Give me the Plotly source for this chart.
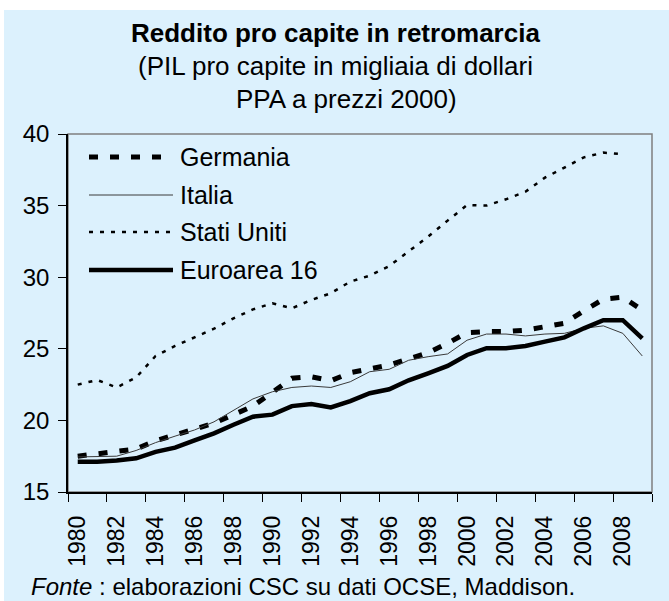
import plotly.graph_objects as go

# Real GDP per capita, thousands of PPP dollars at 2000 prices
years = list(range(1980, 2010))

germania = [17.5, 17.65, 17.77, 18.0, 18.58, 19.0, 19.4, 19.8, 20.4, 21.0,
            21.96, 22.94, 23.05, 22.77, 23.33, 23.64, 23.87, 24.3, 24.73, 25.38,
            26.13, 26.2, 26.2, 26.3, 26.5, 26.78, 27.66, 28.46, 28.6, 27.7]

italia = [17.45, 17.48, 17.5, 17.9, 18.45, 18.9, 19.33, 19.9, 20.7, 21.5,
          22.0, 22.3, 22.4, 22.3, 22.7, 23.4, 23.57, 24.2, 24.45, 24.64,
          25.6, 26.03, 26.03, 25.9, 26.03, 26.08, 26.43, 26.6, 26.08, 24.5]

stati_uniti = [22.5, 22.82, 22.3, 23.0, 24.5, 25.2, 25.8, 26.4, 27.13, 27.75,
               28.18, 27.83, 28.41, 28.88, 29.69, 30.11, 30.78, 31.78, 32.83, 33.95,
               35.04, 35.0, 35.44, 35.97, 36.95, 37.65, 38.37, 38.7, 38.6, None]

euroarea = [17.12, 17.12, 17.2, 17.35, 17.8, 18.1, 18.6, 19.1, 19.7, 20.26,
            20.4, 21.0, 21.15, 20.9, 21.35, 21.9, 22.17, 22.8, 23.29, 23.8,
            24.57, 25.04, 25.04, 25.2, 25.5, 25.8, 26.43, 27.0, 27.0, 25.73]

series_names = ["Germania", "Italia", "Stati Uniti", "Euroarea 16"]
series_values = [germania, italia, stati_uniti, euroarea]

y_ticks = [15, 20, 25, 30, 35, 40]
x_label_years = list(range(1980, 2009, 2))

title_lines = ["<b>Reddito pro capite in retromarcia</b>",
               "(PIL pro capite in migliaia di dollari",
               "PPA a prezzi 2000)"]
source_note = "<i>Fonte</i> : elaborazioni CSC su dati OCSE, Maddison."

# Line styles per series
styles = [
    dict(color="black", width=5, dash="9px,12px"),
    dict(color="#3a3a3a", width=1, dash="solid"),
    dict(color="black", width=2.5, dash="4px,7px"),
    dict(color="black", width=4.5, dash="solid"),
]

BG = "#DCF1FD"
FONT = "Liberation Sans, Arial, sans-serif"
W, H = 669, 601
ML, MR, MT, MB = 68, 17, 134, 109
PW, PH = W - ML - MR, H - MT - MB


def px_x(px):
    return (px - ML) / PW


def px_y(py):
    return (H - MB - py) / PH


fig = go.Figure()

for name, vals, st in zip(series_names, series_values, styles):
    fig.add_trace(go.Scatter(x=years, y=vals, name=name, mode="lines",
                             line=st, connectgaps=False, showlegend=False,
                             xaxis="x", yaxis="y"))

# Invisible trace on the label axis so it is laid out alongside the data axis
fig.add_trace(go.Scatter(x=[years[0], years[-1]], y=[None, None],
                         xaxis="x2", yaxis="y", showlegend=False,
                         hoverinfo="skip"))

shapes = []
annotations = []

# Plot frame (grey), axes drawn on top in black
shapes.append(dict(type="rect", xref="paper", yref="paper", x0=0, x1=1, y0=0, y1=1,
                   line=dict(color="#7f7f7f", width=1.5), layer="below"))

# White border strips outside the coloured panel
shapes.append(dict(type="rect", xref="paper", yref="paper",
                   x0=px_x(-10), x1=px_x(W + 10), y0=px_y(10), y1=px_y(-10),
                   fillcolor="white", line=dict(width=0)))
shapes.append(dict(type="rect", xref="paper", yref="paper",
                   x0=px_x(-10), x1=px_x(4), y0=px_y(H + 10), y1=px_y(-10),
                   fillcolor="white", line=dict(width=0)))

# Legend
legend_rows = [157, 195, 232, 270]
for name, st, row in zip(series_names, styles, legend_rows):
    shapes.append(dict(type="line", xref="paper", yref="paper",
                       x0=px_x(89), x1=px_x(173), y0=px_y(row), y1=px_y(row),
                       line=dict(color=st["color"], width=st["width"], dash=st["dash"])))
    annotations.append(dict(text=name, xref="paper", yref="paper",
                            x=px_x(178), y=px_y(row), xanchor="left", yanchor="middle",
                            showarrow=False, font=dict(size=25, color="black", family=FONT)))

# Title block
title_pos = [(335, 33), (335, 66), (346, 99)]
for txt, (cx, cy) in zip(title_lines, title_pos):
    annotations.append(dict(text=txt, xref="paper", yref="paper",
                            x=px_x(cx), y=px_y(cy), xanchor="center", yanchor="middle",
                            showarrow=False, font=dict(size=26, color="black", family=FONT)))

# Source note
annotations.append(dict(text=source_note, xref="paper", yref="paper",
                        x=px_x(30), y=px_y(H), xanchor="left", yanchor="bottom",
                        borderpad=0, showarrow=False,
                        font=dict(size=24, color="black", family=FONT)))

x_range = [years[0] - 0.5, years[-1] + 0.5]

fig.update_layout(
    width=W, height=H,
    margin=dict(l=ML, r=MR, t=MT, b=MB, pad=0),
    paper_bgcolor=BG, plot_bgcolor=BG,
    font=dict(family=FONT, color="black"),
    showlegend=False,
    shapes=shapes,
    annotations=annotations,
    xaxis=dict(range=x_range, tickmode="array",
               tickvals=[y - 0.5 for y in years[::2]] + [years[-1] + 0.5],
               ticktext=[""] * (len(years[::2]) + 1),
               ticks="outside", ticklen=8, tickwidth=1.2, tickcolor="black",
               showline=True, linecolor="black", linewidth=1.5,
               showgrid=False, zeroline=False, fixedrange=True),
    xaxis2=dict(range=x_range, overlaying="x", anchor="y", side="bottom",
                tickmode="array", tickvals=x_label_years,
                ticktext=[str(v) for v in x_label_years],
                tickangle=-90, ticks="", showline=False, showgrid=False,
                zeroline=False, tickfont=dict(size=23, color="black", family=FONT),
                ticklabelstandoff=18),
    yaxis=dict(range=[15, 40], tickmode="array", tickvals=y_ticks,
               ticks="outside", ticklen=8, tickwidth=1.2, tickcolor="black",
               showline=True, linecolor="black", linewidth=1.5,
               showgrid=False, zeroline=False,
               tickfont=dict(size=24, color="black", family=FONT),
               ticklabelstandoff=4),
)

fig.write_html("out.html")
